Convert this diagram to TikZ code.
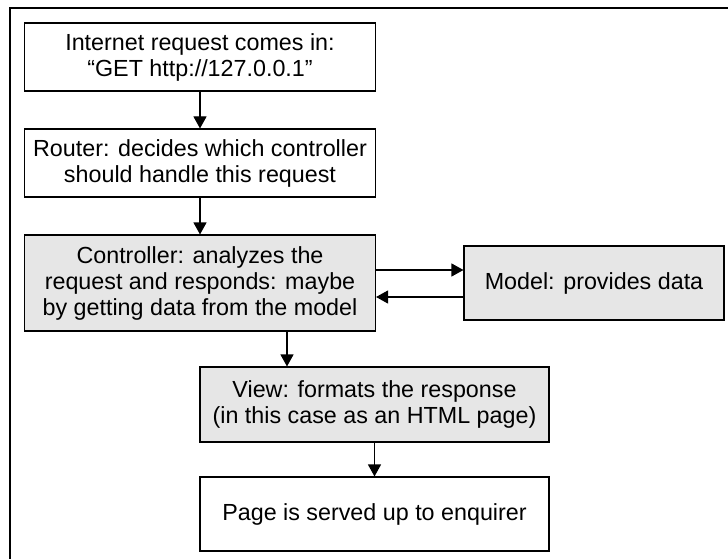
\documentclass[tikz,border=0pt]{standalone}
\usepackage{fontspec}
\setmainfont{Liberation Sans}
\usetikzlibrary{arrows.meta, positioning}
\definecolor{fondogris}{RGB}{230,230,230}
\tikzstyle{caja} = [draw=black, line width=1.1pt, rectangle, align=center, inner sep=0pt, font=\fontsize{23.3}{26}\selectfont]
\tikzstyle{activa} = [caja, fill=fondogris]
\tikzstyle{flecha} = [line width=1.1pt, -{Triangle[length=12pt,width=13pt]}]

\begin{document}
\begin{tikzpicture}[x=1pt,y=-1pt]
	\useasboundingbox (0,0) rectangle (728,559);
	\draw[line width=1.6pt] (10,559) -- (10,8) -- (728,8);
	\node[caja, minimum width=351pt, minimum height=68pt] (peticion) at (200,57) {Internet request comes in:\\“GET http://127.0.0.1”};
	\node[caja, minimum width=351pt, minimum height=68pt] (router) at (200,163) {Router: decides which controller\\should handle this request};
	\node[activa, minimum width=351pt, minimum height=96pt] (controlador) at (200,283) {Controller: analyzes the\\request and responds: maybe\\by getting data from the model};
	\node[activa, minimum width=260pt, minimum height=74pt] (modelo) at (594,283) {Model: provides data};
	\node[activa, minimum width=349pt, minimum height=75pt] (vista) at (374.5,404.5) {View: formats the response\\(in this case as an HTML page)};
	\node[caja, minimum width=349pt, minimum height=74pt] (pagina) at (374.5,514) {Page is served up to enquirer};
	\draw[flecha] (peticion) -- (router);
	\draw[flecha] (router) -- (controlador);
	\draw[flecha] ([yshift=13pt]controlador.east) -- ([yshift=13pt]controlador.east -| modelo.west);
	\draw[flecha] ([yshift=-14pt]modelo.west) -- ([yshift=-14pt]modelo.west -| controlador.east);
	\draw[flecha] ([xshift=87pt]controlador.south) -- ([xshift=87pt]controlador.south |- vista.north);
	\draw[flecha] (vista) -- (pagina);
\end{tikzpicture}
\end{document}
